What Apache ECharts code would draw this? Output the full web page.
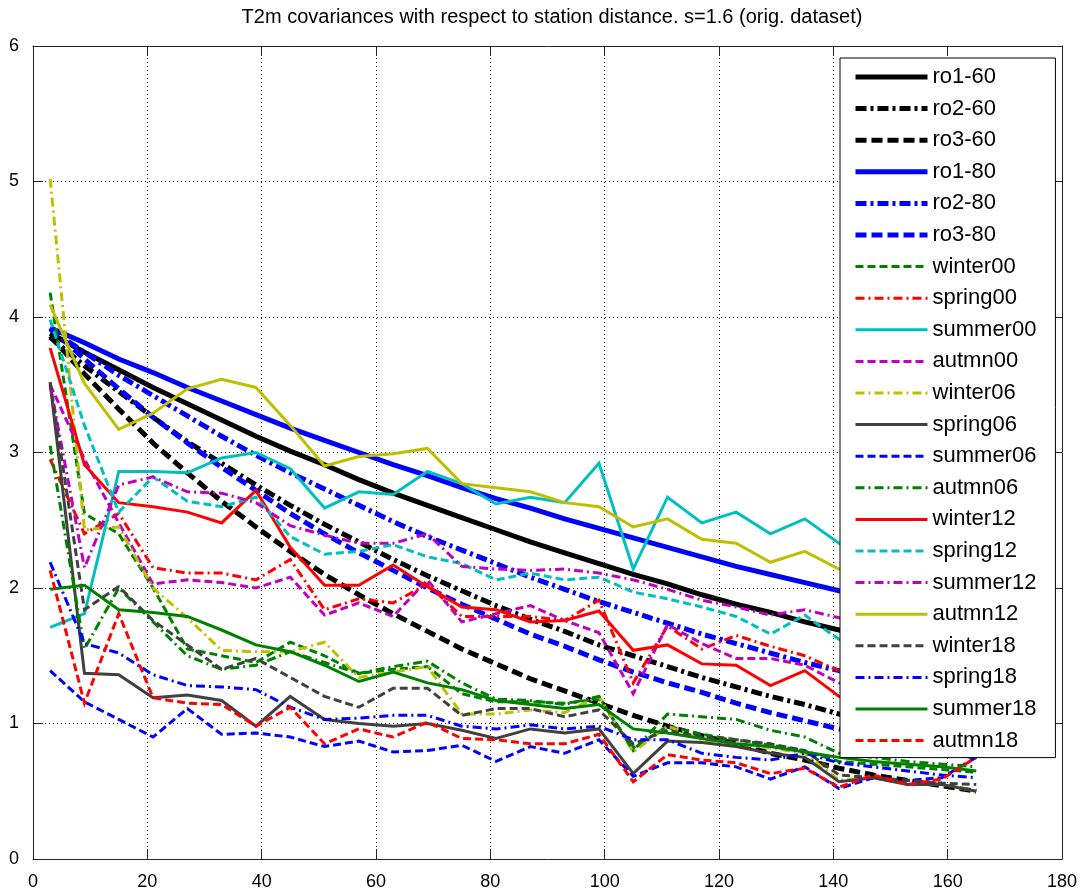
<!DOCTYPE html>
<html>
<head>
<meta charset="utf-8">
<script src="https://cdn.jsdelivr.net/npm/echarts@6/dist/echarts.min.js"></script>
<style>
  html, body { margin: 0; padding: 0; background: #fff; }
  #chart { width: 1089px; height: 895px; }
</style>
</head>
<body>
<div id="chart"></div>
<script>
// Station distance bins (km)
const distance = [3, 9, 15, 21, 27, 33, 39, 45, 51, 57, 63, 69, 75, 81, 87, 93, 99, 105, 111, 117, 123, 129, 135, 141, 147, 153, 159, 165];

// Fitted covariance models
const ro1_60 = [3.88, 3.74, 3.61, 3.48, 3.36, 3.24, 3.12, 3.01, 2.91, 2.80, 2.70, 2.61, 2.52, 2.43, 2.34, 2.26, 2.18, 2.10, 2.03, 1.95, 1.88, 1.82, 1.75, 1.69, 1.63, 1.57, 1.52, 1.46];
const ro2_60 = [3.85, 3.64, 3.45, 3.26, 3.08, 2.92, 2.76, 2.61, 2.47, 2.34, 2.21, 2.09, 1.98, 1.87, 1.77, 1.68, 1.58, 1.50, 1.42, 1.34, 1.27, 1.20, 1.14, 1.07, 1.02, 0.96, 0.91, 0.86];
const ro3_60 = [3.86, 3.58, 3.32, 3.07, 2.85, 2.64, 2.45, 2.27, 2.10, 1.95, 1.81, 1.68, 1.55, 1.44, 1.33, 1.24, 1.15, 1.06, 0.98, 0.91, 0.85, 0.78, 0.73, 0.67, 0.62, 0.58, 0.54, 0.50];
const ro1_80 = [3.92, 3.81, 3.69, 3.59, 3.48, 3.38, 3.28, 3.18, 3.09, 3.00, 2.91, 2.83, 2.74, 2.66, 2.59, 2.51, 2.44, 2.37, 2.30, 2.23, 2.16, 2.10, 2.04, 1.98, 1.92, 1.86, 1.81, 1.76];
const ro2_80 = [3.91, 3.74, 3.57, 3.42, 3.27, 3.12, 2.98, 2.85, 2.73, 2.61, 2.49, 2.38, 2.28, 2.18, 2.08, 1.99, 1.90, 1.82, 1.74, 1.66, 1.59, 1.52, 1.45, 1.39, 1.33, 1.27, 1.21, 1.16];
const ro3_80 = [3.92, 3.69, 3.47, 3.26, 3.07, 2.89, 2.72, 2.55, 2.40, 2.26, 2.13, 2.00, 1.88, 1.77, 1.66, 1.57, 1.47, 1.38, 1.30, 1.23, 1.15, 1.08, 1.02, 0.96, 0.90, 0.85, 0.80, 0.75];

// Empirical covariances per season and hour
const winter00 = [4.18, 2.55, 2.40, 2.00, 1.55, 1.50, 1.45, 1.60, 1.50, 1.37, 1.40, 1.42, 1.22, 1.16, 1.16, 1.15, 1.18, 0.82, 0.98, 0.92, 0.88, 0.84, 0.80, 0.72, 0.70, 0.68, 0.66, 0.64];
const spring00 = [2.95, 2.40, 2.55, 2.15, 2.11, 2.11, 2.06, 2.21, 1.84, 1.92, 1.89, 2.03, 1.79, 1.79, 1.79, 1.76, 1.91, 1.30, 1.72, 1.55, 1.65, 1.57, 1.50, 1.39, 1.35, 1.30, 1.25, 1.20];
const summer00 = [1.71, 1.81, 2.86, 2.86, 2.85, 2.96, 3.00, 2.88, 2.59, 2.71, 2.69, 2.86, 2.77, 2.62, 2.67, 2.63, 2.92, 2.14, 2.67, 2.48, 2.56, 2.40, 2.51, 2.33, 2.30, 2.22, 2.15, 2.10];
const autmn00 = [3.50, 2.95, 2.48, 2.03, 2.06, 2.04, 2.00, 2.08, 1.80, 1.89, 1.79, 2.06, 1.75, 1.81, 1.87, 1.76, 1.67, 1.22, 1.73, 1.59, 1.48, 1.48, 1.43, 1.30, 1.25, 1.20, 1.15, 1.10];
const winter06 = [5.02, 2.43, 2.45, 2.00, 1.78, 1.54, 1.53, 1.53, 1.60, 1.34, 1.38, 1.42, 1.07, 1.07, 1.10, 1.08, 1.20, 0.79, 0.98, 0.88, 0.85, 0.82, 0.78, 0.58, 0.60, 0.55, 0.55, 0.50];
const spring06 = [3.51, 1.37, 1.36, 1.19, 1.21, 1.17, 0.98, 1.20, 1.03, 1.00, 0.98, 1.00, 0.95, 0.89, 0.96, 0.93, 0.96, 0.63, 0.87, 0.86, 0.83, 0.78, 0.75, 0.57, 0.60, 0.55, 0.55, 0.50];
const summer06 = [1.39, 1.16, 1.03, 0.90, 1.11, 0.92, 0.93, 0.90, 0.83, 0.87, 0.79, 0.80, 0.84, 0.72, 0.83, 0.78, 0.88, 0.61, 0.71, 0.71, 0.68, 0.59, 0.68, 0.52, 0.60, 0.58, 0.60, 0.75];
const autmn06 = [3.05, 1.55, 2.00, 1.75, 1.50, 1.40, 1.43, 1.53, 1.45, 1.37, 1.42, 1.46, 1.30, 1.18, 1.17, 1.14, 1.20, 0.80, 1.07, 1.05, 1.03, 0.95, 0.90, 0.78, 0.75, 0.72, 0.70, 0.68];
const winter12 = [3.77, 2.91, 2.63, 2.60, 2.56, 2.48, 2.72, 2.30, 2.02, 2.02, 2.17, 2.01, 1.86, 1.84, 1.75, 1.76, 1.83, 1.54, 1.58, 1.44, 1.43, 1.28, 1.39, 1.20, 1.15, 1.10, 1.05, 1.00];
const spring12 = [3.98, 3.20, 2.56, 2.82, 2.64, 2.60, 2.67, 2.38, 2.25, 2.27, 2.32, 2.23, 2.18, 2.06, 2.11, 2.06, 2.08, 1.97, 1.92, 1.86, 1.79, 1.66, 1.80, 1.62, 1.55, 1.50, 1.45, 1.40];
const summer12 = [3.50, 2.15, 2.76, 2.82, 2.71, 2.70, 2.63, 2.46, 2.39, 2.33, 2.33, 2.40, 2.16, 2.14, 2.13, 2.14, 2.11, 2.06, 1.99, 1.91, 1.86, 1.80, 1.84, 1.78, 1.72, 1.68, 1.63, 1.58];
const autmn12 = [4.09, 3.51, 3.17, 3.29, 3.47, 3.54, 3.48, 3.20, 2.90, 2.97, 2.99, 3.03, 2.77, 2.74, 2.71, 2.63, 2.60, 2.45, 2.51, 2.36, 2.33, 2.19, 2.27, 2.14, 2.05, 2.00, 1.95, 1.90];
const winter18 = [3.52, 1.84, 2.01, 1.76, 1.58, 1.40, 1.48, 1.34, 1.20, 1.12, 1.26, 1.26, 1.06, 1.11, 1.11, 1.05, 1.10, 0.85, 0.95, 0.90, 0.88, 0.85, 0.80, 0.62, 0.60, 0.58, 0.56, 0.55];
const spring18 = [2.19, 1.59, 1.52, 1.36, 1.28, 1.27, 1.25, 1.12, 1.03, 1.04, 1.06, 1.06, 0.98, 0.96, 0.99, 0.96, 0.98, 0.88, 0.88, 0.78, 0.75, 0.73, 0.78, 0.71, 0.68, 0.65, 0.62, 0.60];
const summer18 = [1.99, 2.02, 1.84, 1.82, 1.79, 1.69, 1.58, 1.53, 1.43, 1.31, 1.38, 1.30, 1.25, 1.17, 1.14, 1.11, 1.14, 0.96, 0.93, 0.89, 0.85, 0.83, 0.79, 0.75, 0.72, 0.70, 0.68, 0.65];
const autmn18 = [2.13, 1.15, 1.81, 1.19, 1.15, 1.14, 0.98, 1.12, 0.85, 0.96, 0.90, 1.01, 0.89, 0.88, 0.85, 0.85, 0.92, 0.57, 0.77, 0.73, 0.71, 0.63, 0.67, 0.53, 0.62, 0.55, 0.59, 0.75];

// Axis ticks
const xTicks = [0, 20, 40, 60, 80, 100, 120, 140, 160, 180];
const yTicks = [0, 1, 2, 3, 4, 5, 6];

const C = {
  k: '#000000', b: '#0000ff', g: '#008000', r: '#ff0000',
  c: '#00bfbf', m: '#bf00bf', y: '#bfbf00', d: '#404040'
};
const DASH = {
  solid: 'solid',
  dashedThick: [11, 5],
  dashdotThick: [11, 4, 3, 4],
  dashed: [8, 4],
  dashdot: [9, 4, 2, 4]
};

// [name, values, colour, dash, width]
const seriesDefs = [
  ['ro1-60', ro1_60, C.k, DASH.solid, 5],
  ['ro2-60', ro2_60, C.k, DASH.dashdotThick, 5],
  ['ro3-60', ro3_60, C.k, DASH.dashedThick, 5],
  ['ro1-80', ro1_80, C.b, DASH.solid, 5],
  ['ro2-80', ro2_80, C.b, DASH.dashdotThick, 5],
  ['ro3-80', ro3_80, C.b, DASH.dashedThick, 5],
  ['winter00', winter00, C.g, DASH.dashed, 3],
  ['spring00', spring00, C.r, DASH.dashdot, 3],
  ['summer00', summer00, C.c, DASH.solid, 3],
  ['autmn00', autmn00, C.m, DASH.dashed, 3],
  ['winter06', winter06, C.y, DASH.dashdot, 3],
  ['spring06', spring06, C.d, DASH.solid, 3],
  ['summer06', summer06, C.b, DASH.dashed, 3],
  ['autmn06', autmn06, C.g, DASH.dashdot, 3],
  ['winter12', winter12, C.r, DASH.solid, 3],
  ['spring12', spring12, C.c, DASH.dashed, 3],
  ['summer12', summer12, C.m, DASH.dashdot, 3],
  ['autmn12', autmn12, C.y, DASH.solid, 3],
  ['winter18', winter18, C.d, DASH.dashed, 3],
  ['spring18', spring18, C.b, DASH.dashdot, 3],
  ['summer18', summer18, C.g, DASH.solid, 3],
  ['autmn18', autmn18, C.r, DASH.dashed, 3]
];

const FONT = 'Liberation Sans, Arial, Helvetica, sans-serif';

const series = seriesDefs.map(([name, vals, color, dash, width]) => ({
  name: name,
  type: 'line',
  data: distance.map((d, i) => [d, vals[i]]),
  symbol: 'none',
  showSymbol: false,
  animation: false,
  xAxisIndex: 0,
  yAxisIndex: 0,
  color: color,
  lineStyle: { color: color, width: width, type: dash, cap: 'butt', join: 'miter' },
  emphasis: { disabled: true }
}));

function valueAxis(pos, show, ticks) {
  return {
    type: 'value',
    position: pos,
    min: ticks[0],
    max: ticks[ticks.length - 1],
    interval: ticks[1] - ticks[0],
    axisLine: { show: true, onZero: false, lineStyle: { color: '#262626', width: 1 } },
    axisTick: { show: true, inside: true, length: 10, lineStyle: { color: '#262626', width: 1 } },
    axisLabel: {
      show: show, color: '#000', fontFamily: FONT, fontSize: 18,
      margin: 10
    },
    splitLine: show ? { show: true, lineStyle: { color: '#222', width: 1, type: [1, 3] } } : { show: false }
  };
}

const xAxes = [valueAxis('bottom', true, xTicks), valueAxis('top', false, xTicks)];
const yAxes = [valueAxis('left', true, yTicks), valueAxis('right', false, yTicks)];
xAxes[0].axisLabel.margin = 14;
yAxes[0].axisLabel.margin = 14;

const chart = echarts.init(document.getElementById('chart'), null, { renderer: 'canvas' });
chart.setOption({
  backgroundColor: '#ffffff',
  animation: false,
  title: {
    text: 'T2m covariances with respect to station distance. s=1.6 (orig. dataset)',
    left: 547, textAlign: 'center', top: 2,
    textStyle: { fontFamily: FONT, fontSize: 20, fontWeight: 'normal', color: '#000' }
  },
  grid: { left: 33, right: 27, top: 46, bottom: 36, containLabel: false },
  xAxis: xAxes,
  yAxis: yAxes,
  legend: {
    orient: 'vertical',
    left: 840, top: 58,
    padding: [8, 19, 6, 13],
    itemWidth: 72,
    itemHeight: 20,
    itemGap: 9.6,
    backgroundColor: '#ffffff',
    borderColor: '#000',
    borderWidth: 1,
    selectedMode: false,
    itemStyle: { color: 'rgba(0,0,0,0)', borderWidth: 0, opacity: 0 },
    lineStyle: { width: 'inherit', type: 'inherit', color: 'inherit' },
    textStyle: { fontFamily: FONT, fontSize: 22, color: '#000', lineHeight: 20 },
    data: seriesDefs.map(s => s[0])
  },
  series: series
});
</script>
</body>
</html>
